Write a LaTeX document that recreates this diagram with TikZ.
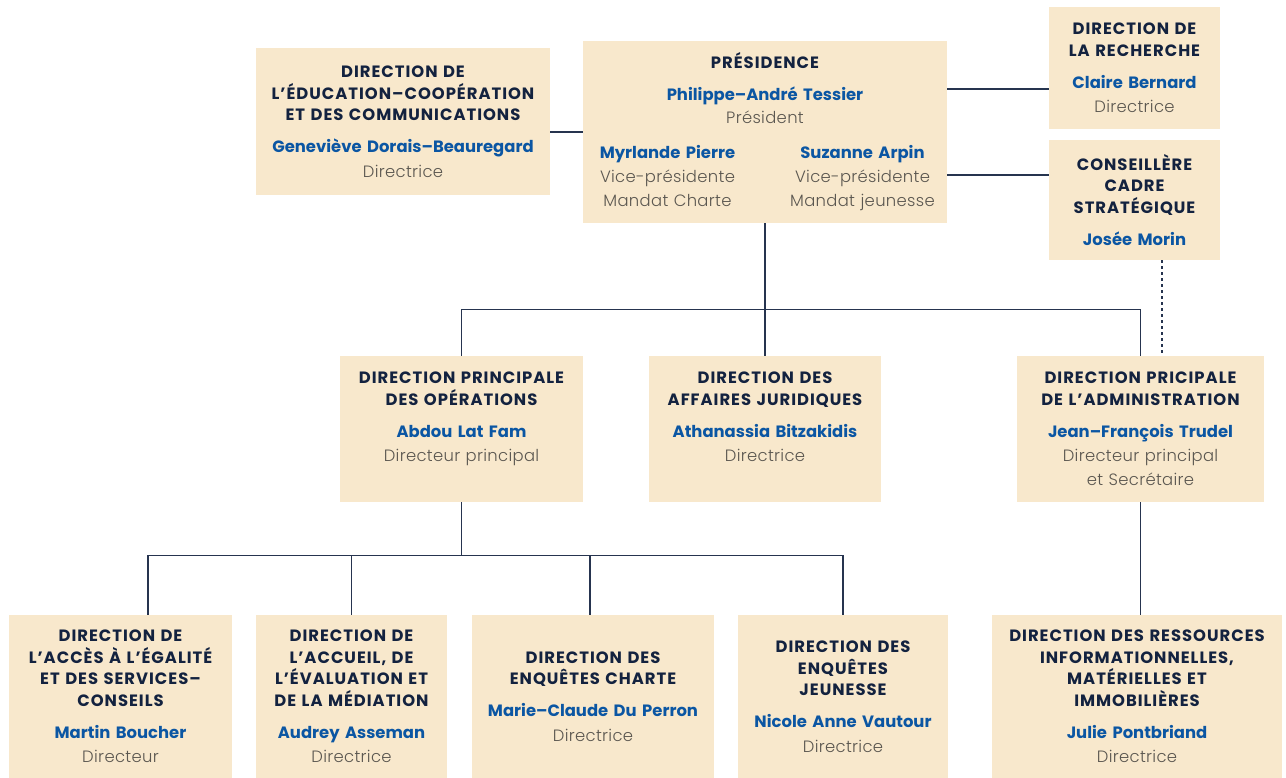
\documentclass[tikz,border=0pt]{standalone}
\usepackage{fontspec}
\setmainfont{Poppins}
\newfontfamily\lightfont{Poppins Light}
\usetikzlibrary{positioning}
\definecolor{orgfill}{HTML}{F8E8CC}
\definecolor{orgnavy}{HTML}{13223F}
\definecolor{orgblue}{HTML}{0B56A3}
\definecolor{orggray}{HTML}{5B5750}
\definecolor{orgline}{HTML}{26344F}
\newcommand{\titre}[1]{{\bfseries\addfontfeatures{LetterSpace=6}\color{orgnavy}#1}}
\newcommand{\nom}[1]{{\bfseries\color{orgblue}#1}}
\newcommand{\poste}[1]{{\lightfont\addfontfeatures{LetterSpace=2}\color{orggray}#1}}
\newcommand{\fiche}[3]{\titre{#1}\\[10.5pt]\nom{#2}\\[3pt]\poste{#3}}

\begin{document}
\begin{tikzpicture}[x=1pt, y=-1pt,
        orgbox/.style={fill=orgfill, inner sep=0pt, align=center,
          font=\fontsize{16.4}{21.5}\selectfont},
        taille/.style 2 args={minimum width=#1pt, text width=#1pt, minimum height=#2pt},
        lien/.style={draw=orgline, line width=1.1pt}]
        \useasboundingbox (0,0) rectangle (1286,778);
        % niveau du haut
        \node[orgbox, taille={364}{182}] (pres) at (765,132) {\titre{PRÉSIDENCE}\\[10.5pt]\nom{Philippe–André Tessier}\\[1.5pt]\poste{Président}\\\makebox[0pt]{\parbox[t]{195pt}{\centering\nom{Myrlande Pierre}\\[3pt]\poste{Vice-présidente}\\[2.5pt]\poste{Mandat Charte}}\parbox[t]{195pt}{\centering\nom{Suzanne Arpin}\\[3pt]\poste{Vice-présidente}\\[2.5pt]\poste{Mandat jeunesse}}}};
        \node[orgbox, taille={294}{147}] (educ) at (403,121.5) {\fiche{DIRECTION DE\\L’ÉDUCATION–COOPÉRATION\\ET DES COMMUNICATIONS}{Geneviève Dorais–Beauregard}{Directrice}};
        \node[orgbox, taille={171}{122}] (rech) at (1134.5,68) {\fiche{DIRECTION DE\\LA RECHERCHE}{Claire Bernard}{Directrice}};
        \node[orgbox, taille={171}{120}] (cons) at (1134.5,200) {\titre{CONSEILLÈRE\\CADRE\\STRATÉGIQUE}\\[10.5pt]\nom{Josée Morin}};
        % niveau du milieu
        \node[orgbox, taille={243}{146}] (ops) at (461.5,429) {\fiche{DIRECTION PRINCIPALE\\DES OPÉRATIONS}{Abdou Lat Fam}{Directeur principal}\\[2.5pt]\phantom{x}};
        \node[orgbox, taille={232}{146}] (jur) at (765,429) {\fiche{DIRECTION DES\\AFFAIRES JURIDIQUES}{Athanassia Bitzakidis}{Directrice}\\[2.5pt]\phantom{x}};
        \node[orgbox, taille={247}{146}] (adm) at (1140.5,429) {\fiche{DIRECTION PRICIPALE\\DE L’ADMINISTRATION}{Jean–François Trudel}{Directeur principal\\[2.5pt]et Secrétaire}};
        % niveau du bas
        \node[orgbox, taille={223}{163}] (b1) at (120.5,696.5) {\fiche{DIRECTION DE\\L’ACCÈS À L’ÉGALITÉ\\ET DES SERVICES–\\CONSEILS}{Martin Boucher}{Directeur}};
        \node[orgbox, taille={191}{163}] (b2) at (351.5,696.5) {\fiche{DIRECTION DE\\L’ACCUEIL, DE\\L’ÉVALUATION ET\\DE LA MÉDIATION}{Audrey Asseman}{Directrice}};
        \node[orgbox, taille={242}{163}] (b3) at (593,696.5) {\fiche{DIRECTION DES\\ENQUÊTES CHARTE}{Marie–Claude Du Perron}{Directrice}};
        \node[orgbox, taille={210}{163}] (b4) at (843,696.5) {\fiche{DIRECTION DES\\ENQUÊTES\\JEUNESSE}{Nicole Anne Vautour}{Directrice}};
        \node[orgbox, taille={290}{163}] (ress) at (1137,696.5) {\fiche{DIRECTION DES RESSOURCES\\INFORMATIONNELLES,\\MATÉRIELLES ET\\IMMOBILIÈRES}{Julie Pontbriand}{Directrice}};
        % liens
        \coordinate (rechin) at ([yshift=-21pt]rech.west);
        \coordinate (consin) at ([yshift=25pt]cons.west);
        \draw[lien] (pres.west) -- (pres.west -| educ.east);
        \draw[lien] (rechin) -- (rechin -| pres.east);
        \draw[lien] (consin) -- (consin -| pres.east);
        \draw[lien] (pres.south) -- (jur.north);
        \draw[lien] (ops.north) -- ++(0,-46) coordinate (haut) -| (adm.north);
        \draw[lien, dash pattern=on 3pt off 3pt] ([xshift=27.5pt]cons.south) -- ([xshift=27.5pt]cons.south |- adm.north);
        \draw[lien] (ops.south) -- ++(0,53) coordinate (bas);
        \draw[lien] ([xshift=27.5pt]b1.north) -- ([xshift=27.5pt]b1.north |- bas) -- (b4.north |- bas) -- (b4.north);
        \foreach \b/\dx in {b2/0, b3/-3}{\draw[lien] ([xshift=\dx pt]\b.north) -- ([xshift=\dx pt]\b.north |- bas);}
        \draw[lien] (adm.south) -- (adm.south |- ress.north);
\end{tikzpicture}
\end{document}
